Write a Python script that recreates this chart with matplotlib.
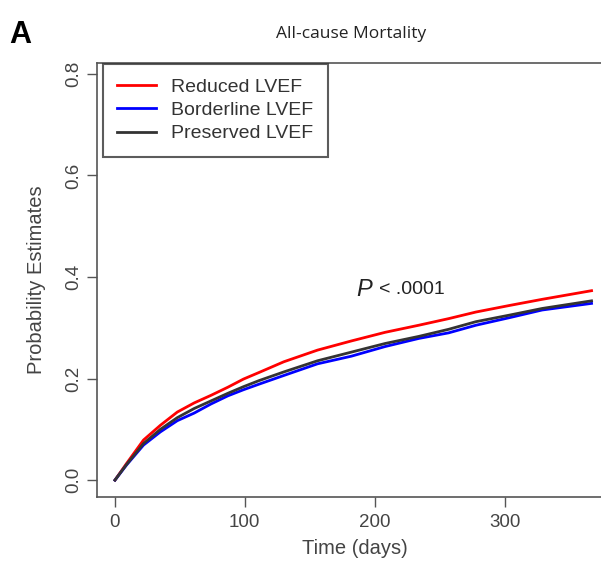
import matplotlib
matplotlib.use('Agg')
import matplotlib.pyplot as plt

# days and cumulative mortality estimates
days = [0, 9, 22, 35, 48, 61, 74, 87, 99, 111, 130, 156, 182, 208, 234, 257, 278, 304, 329, 367]
reduced = [0, 0.033, 0.079, 0.108, 0.134, 0.152, 0.167, 0.183, 0.199, 0.212, 0.233, 0.256,
           0.274, 0.291, 0.305, 0.318, 0.331, 0.344, 0.356, 0.373]
borderline = [0, 0.030, 0.069, 0.095, 0.117, 0.132, 0.150, 0.166, 0.178, 0.189, 0.206, 0.229,
              0.244, 0.263, 0.279, 0.290, 0.305, 0.320, 0.335, 0.348]
preserved = [0, 0.031, 0.072, 0.100, 0.123, 0.141, 0.156, 0.171, 0.184, 0.196, 0.213, 0.235,
             0.252, 0.269, 0.283, 0.297, 0.312, 0.325, 0.338, 0.353]

labels = ['Reduced LVEF', 'Borderline LVEF', 'Preserved LVEF']
colors = ['#ff0000', '#0000ff', '#333333']

plt.rcParams['font.family'] = ['Liberation Sans', 'DejaVu Sans']

fig = plt.figure(figsize=(6.01, 5.64), dpi=100)
ax = fig.add_axes([0.161, 0.119, 0.86, 0.769])

for y, c, lab in zip([reduced, borderline, preserved], colors, labels):
    ax.plot(days, y, color=c, lw=2, label=lab)

ax.set_xlim(-14, 384)
ax.set_ylim(-0.033, 0.821)
ax.set_xticks([0, 100, 200, 300])
ax.set_yticks([0.0, 0.2, 0.4, 0.6, 0.8])
ax.set_yticklabels(['0.0', '0.2', '0.4', '0.6', '0.8'], rotation=90, va='center')
ax.tick_params(colors='#555555', labelcolor='#444444', labelsize=13.5, length=7, width=1)
ax.tick_params(axis='x', pad=5)
for s in ax.spines.values():
    s.set_color('#555555')
    s.set_linewidth(1.2)

ax.set_xlabel('Time (days)', fontsize=14.5, color='#444444', labelpad=6)
ax.set_ylabel('Probability Estimates', fontsize=14.5, color='#444444', labelpad=14)

leg = ax.legend(loc='upper left', bbox_to_anchor=(0.0116, 0.998), fontsize=14,
                frameon=True, fancybox=False, handlelength=2.0, handletextpad=0.75,
                borderpad=0.75, labelspacing=0.28, borderaxespad=0.0)
leg.get_frame().set_edgecolor('#333333')
leg.get_frame().set_linewidth(1.5)
for t in leg.get_texts():
    t.set_color('#333333')

ax.text(186, 0.375, 'P', fontsize=17, style='italic', color='#222222', ha='left', va='center')
ax.text(203, 0.376, '< .0001', fontsize=14, color='#222222', ha='left', va='center')

fig.text(0.585, 0.94, 'All-cause Mortality', fontsize=12.5, family='Open Sans',
         color='#222222', ha='center', va='center')
fig.text(0.015, 0.938, 'A', fontsize=22, fontweight='bold', color='black',
         ha='left', va='center')

fig.savefig('out.png', dpi=100)
